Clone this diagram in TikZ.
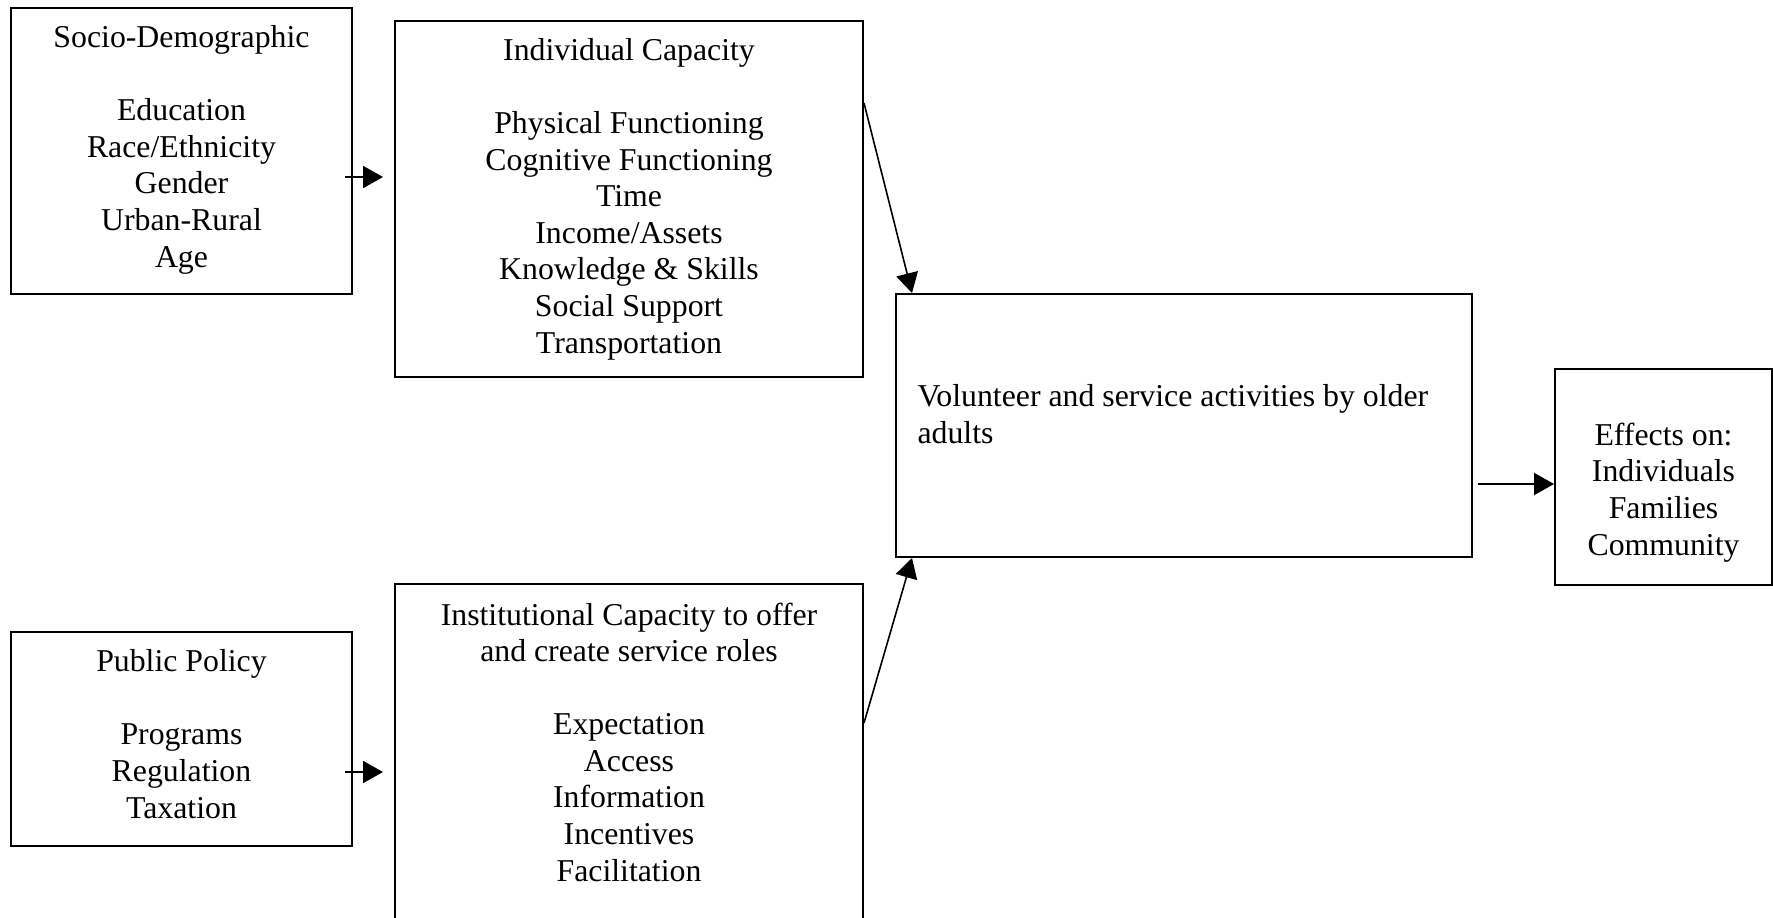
\documentclass[tikz,border=0pt]{standalone}
\usepackage{fontspec}
\setmainfont{Liberation Serif}
\usetikzlibrary{arrows.meta,fit,calc}
\tikzset{
  box/.style={draw, line width=0.75pt, inner sep=0pt, rectangle},
  txt/.style={inner sep=0pt, align=center, font=\fontsize{12pt}{13.8pt}\selectfont},
  ltxt/.style={inner sep=0pt, align=left, font=\fontsize{12pt}{13.8pt}\selectfont},
  arr/.style={line width=0.6pt, -{Triangle[length=7.5pt,width=8.3pt]}}
}
\begin{document}
\begin{tikzpicture}[x=0.3774pt,y=-0.3774pt]
\useasboundingbox (0,0) rectangle (1773,917);
% boxes
\node[box, fit={(11,8) (352,294)}] (sd) {};
\node[box, fit={(395,21) (863,377)}] (ind) {};
\node[box, fit={(896,294) (1472,557)}] (vol) {};
\node[box, fit={(1555,369) (1772,585)}] (eff) {};
\node[box, fit={(11,632) (352,846)}] (pp) {};
\node[box, fit={(395,584) (863,940)}] (inst) {};
% texts (anchor base = baseline of last line)
\node[txt, anchor=base] (sdt) at (181.5,267) {Socio-Demographic\\[13.8pt]Education\\Race/Ethnicity\\Gender\\Urban-Rural\\Age};
\node[txt, anchor=base] (indt) at (629,353) {Individual Capacity\\[13.8pt]Physical Functioning\\Cognitive Functioning\\Time\\Income/Assets\\Knowledge \& Skills\\Social Support\\Transportation};
\node[ltxt, anchor=base west] (volt) at (917,443) {Volunteer and service activities by older\\adults};
\node[txt, anchor=base] (efft) at (1663.5,555) {Effects on:\\Individuals\\Families\\Community};
\node[txt, anchor=base] (ppt) at (181.5,818) {Public Policy\\[13.8pt]Programs\\Regulation\\Taxation};
\node[txt, anchor=base] (instt) at (629,881) {Institutional Capacity to offer\\and create service roles\\[13.8pt]Expectation\\Access\\Information\\Incentives\\Facilitation};
% connector end points
\coordinate (a1s) at (345,177);
\coordinate (a1e) at (383,177);
\coordinate (a2s) at (345,772);
\coordinate (a2e) at (383,772);
\coordinate (p3) at (865,103);
\coordinate (q3) at (912,293);
\coordinate (p4) at (865,723);
\coordinate (q4) at (912,558);
\coordinate (a5s) at (1478,484);
% connectors
\draw[arr] (a1s) -- (a1e);
\draw[arr] (a2s) -- (a2e);
\draw[arr] (p3 -| ind.east) -- (q3 |- vol.north);
\draw[arr] (p4 -| inst.east) -- (q4 |- vol.south);
\draw[arr] (a5s) -- (a5s -| eff.west);
\end{tikzpicture}
\end{document}
